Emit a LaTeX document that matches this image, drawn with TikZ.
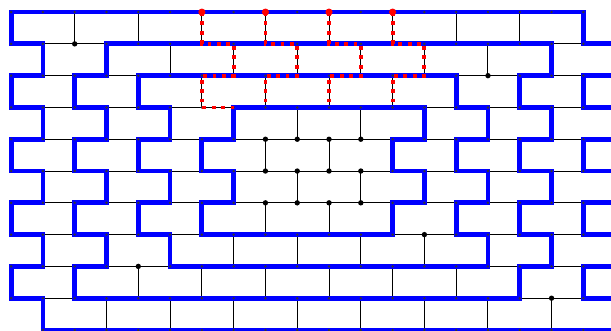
\documentclass[tikz,border=0pt]{standalone}
\usepackage{tikz}
\tikzset{
  bond/.style={draw=black, line width=0.9pt},
  loopline/.style={draw=blue, line width=4.3pt, line join=miter},
  redpath/.style={draw=red, line width=3.4pt, dash pattern=on 3.4pt off 5pt},
  site/.style={fill=black!80},
  freesite/.style={fill=black},
  rootsite/.style={fill=red},
}

\begin{document}
\begin{tikzpicture}[x=1cm, y=1cm]
  \useasboundingbox (-0.35,0.38) rectangle (18.87,-10.03);

  % lattice points
  \foreach \r in {0,...,10} {
    \foreach \c in {0,...,18} {
      \coordinate (v\c-\r) at (\c,-\r);
    }
    \coordinate (e-\r) at (19.4,-\r);
  }

  % black brick lattice
  \draw[bond] (v0-0) -- (v18-0);
  \foreach \r in {1,...,9} {
    \draw[bond] (v0-\r) -- (e-\r);
  }
  \draw[bond] (v1-10) -- (e-10);
  \foreach \r in {0,...,9} {
    \pgfmathtruncatemacro\rr{\r+1}
    \pgfmathtruncatemacro\s{mod(\r,2)}
    \pgfmathtruncatemacro\t{\s+2}
    \foreach \c in {\s,\t,...,18} {
      \draw[bond] (v\c-\r) -- (v\c-\rr);
    }
  }

  % blue loops
  \draw[loopline] (e-1) -- (v18-1) -- (v18-0) -- (v0-0) -- (v0-1) -- (v1-1)
    -- (v1-2) -- (v0-2) -- (v0-3) -- (v1-3) -- (v1-4) -- (v0-4) -- (v0-5)
    -- (v1-5) -- (v1-6) -- (v0-6) -- (v0-7) -- (v1-7) -- (v1-8) -- (v0-8)
    -- (v0-9) -- (v1-9) -- (v1-10) -- (e-10);
  \draw[loopline] (v3-1) -- (v17-1) -- (v17-2) -- (v16-2) -- (v16-3) -- (v17-3)
    -- (v17-4) -- (v16-4) -- (v16-5) -- (v17-5) -- (v17-6) -- (v16-6) -- (v16-7)
    -- (v17-7) -- (v17-8) -- (v16-8) -- (v16-9) -- (v2-9) -- (v2-8) -- (v3-8)
    -- (v3-7) -- (v2-7) -- (v2-6) -- (v3-6) -- (v3-5) -- (v2-5) -- (v2-4)
    -- (v3-4) -- (v3-3) -- (v2-3) -- (v2-2) -- (v3-2) -- cycle;
  \draw[loopline] (v4-2) -- (v14-2) -- (v14-3) -- (v15-3) -- (v15-4) -- (v14-4)
    -- (v14-5) -- (v15-5) -- (v15-6) -- (v14-6) -- (v14-7) -- (v15-7) -- (v15-8)
    -- (v5-8) -- (v5-7) -- (v4-7) -- (v4-6) -- (v5-6) -- (v5-5) -- (v4-5)
    -- (v4-4) -- (v5-4) -- (v5-3) -- (v4-3) -- cycle;
  \draw[loopline] (v7-3) -- (v13-3) -- (v13-4) -- (v12-4) -- (v12-5) -- (v13-5)
    -- (v13-6) -- (v12-6) -- (v12-7) -- (v6-7) -- (v6-6) -- (v7-6) -- (v7-5)
    -- (v6-5) -- (v6-4) -- (v7-4) -- cycle;
  \foreach \r [evaluate=\r as \rr using int(\r+1)] in {2,4,6,8} {
    \draw[loopline] (e-\r) -- (v18-\r) -- (v18-\rr) -- (e-\rr);
  }

  % small sites
  \foreach \r in {0,...,9} {
    \foreach \c in {0,...,18} {
      \fill[site] (v\c-\r) circle (1.2pt);
    }
  }
  \foreach \c in {1,...,18} {
    \fill[site] (v\c-10) circle (1.2pt);
  }

  % red strings from the top row
  \draw[redpath] (v6-0) -- (v6-1) -- (v7-1) -- (v7-2) -- (v6-2) -- (v6-3) -- (v7-3);
  \foreach \k [evaluate=\k as \kk using int(\k+1)] in {8,10,12} {
    \draw[redpath] (v\k-0) -- (v\k-1) -- (v\kk-1) -- (v\kk-2) -- (v\k-2) -- (v\k-3);
  }

  % empty sites
  \foreach \p in {2-1,15-2,13-7,4-8,17-9} {
    \fill[freesite] (v\p) circle (2.4pt);
  }
  \foreach \r in {4,5,6} {
    \foreach \c in {8,...,11} {
      \fill[freesite] (v\c-\r) circle (2.4pt);
    }
  }
  \foreach \k in {6,8,10,12} {
    \fill[rootsite] (v\k-0) circle (3.2pt);
  }
\end{tikzpicture}
\end{document}
